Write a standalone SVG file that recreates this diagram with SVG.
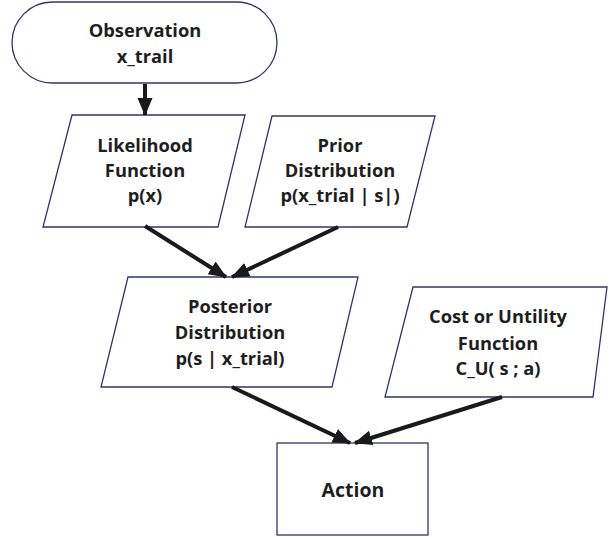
<svg xmlns="http://www.w3.org/2000/svg" width="609" height="537" viewBox="0 0 609 537">
  <defs>
    <marker id="arrow" markerUnits="userSpaceOnUse" markerWidth="18" markerHeight="18" viewBox="0 0 18 18" refX="17" refY="9" orient="auto">
      <path d="M0,1.5 L18,9 L0,16.5 Z" fill="#1a1a1a"/>
    </marker>
    <style>
      .shape { fill: #ffffff; stroke: #2e3768; stroke-width: 1.3; }
      .label { font-family: "Open Sans", "Noto Sans", sans-serif; font-weight: bold; font-size: 18.3px; fill: #1e1e1e; text-anchor: middle; }
      .edge { fill: none; stroke: #1a1a1a; stroke-width: 4; marker-end: url(#arrow); }
    </style>
  </defs>
  <rect width="609" height="537" fill="#ffffff"/>

  <g id="observation">
    <rect class="shape" x="12" y="2" width="265" height="81" rx="40.5" ry="40.5"/>
    <text class="label" x="145" y="37">Observation</text>
    <text class="label" x="145" y="63">x_trail</text>
  </g>

  <g id="likelihood">
    <polygon class="shape" points="72,115 245,115 218,227 43,227"/>
    <text class="label" x="145" y="152">Likelihood</text>
    <text class="label" x="145" y="177">Function</text>
    <text class="label" x="145" y="202">p(x)</text>
  </g>

  <g id="prior">
    <polygon class="shape" points="272,116 435,116 407,227 245,227"/>
    <text class="label" x="340" y="152">Prior</text>
    <text class="label" x="340" y="177">Distribution</text>
    <text class="label" x="340" y="202">p(x_trial | s|)</text>
  </g>

  <g id="posterior">
    <polygon class="shape" points="128,277 358,277 332,387 101,387"/>
    <text class="label" x="230" y="313">Posterior</text>
    <text class="label" x="230" y="339">Distribution</text>
    <text class="label" x="230" y="365">p(s | x_trial)</text>
  </g>

  <g id="cost">
    <polygon class="shape" points="413,287 607,287 593,397 385,397"/>
    <text class="label" x="498" y="323">Cost or Untility</text>
    <text class="label" x="498" y="350">Function</text>
    <text class="label" x="498" y="375">C_U( s ; a)</text>
  </g>

  <g id="action">
    <rect class="shape" x="277" y="443" width="151" height="92"/>
    <text class="label" x="353" y="497" style="font-size:19.5px">Action</text>
  </g>

  <g id="connectors">
    <line class="edge" x1="145" y1="84" x2="145" y2="115"/>
    <line class="edge" x1="145" y1="226" x2="226" y2="277"/>
    <line class="edge" x1="338" y1="227" x2="232" y2="277"/>
    <line class="edge" x1="232" y1="387" x2="350" y2="443"/>
    <line class="edge" x1="502" y1="397" x2="355" y2="443"/>
  </g>
</svg>
